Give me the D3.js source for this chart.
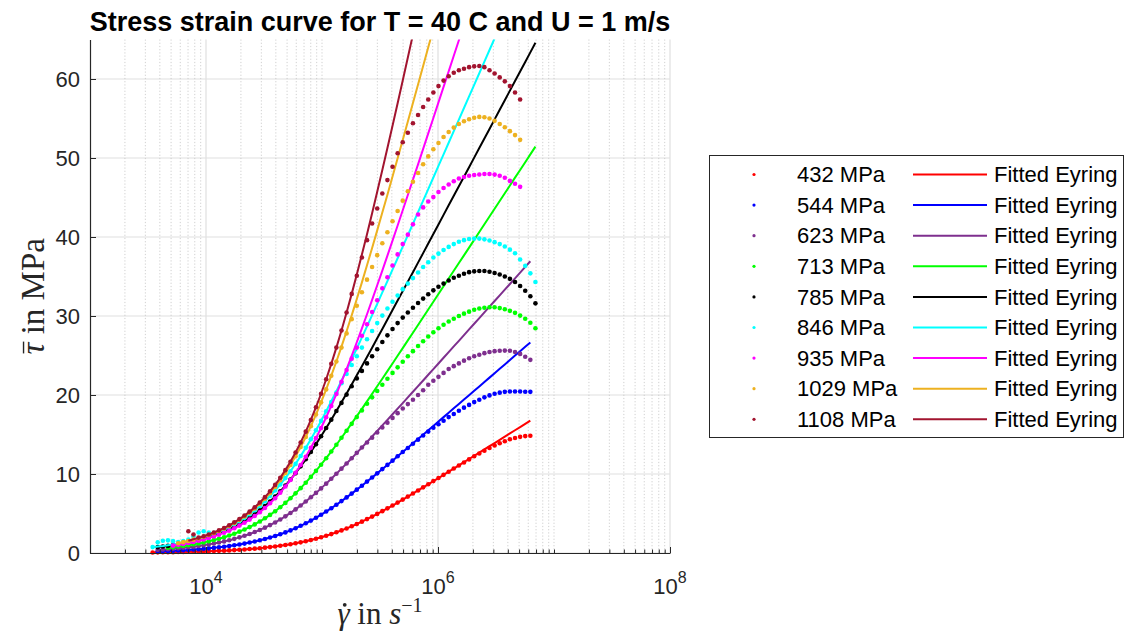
<!DOCTYPE html>
<html>
<head>
<meta charset="utf-8">
<script src="https://cdn.jsdelivr.net/npm/d3@7"></script>
<style>
  html, body { margin: 0; padding: 0; background: #ffffff; }
  svg { display: block; }
</style>
</head>
<body>
<svg id="chart" width="1125" height="641"></svg>
<script>
// ---- shear-rate sample grid (log10 of shear rate, 1/s) ----
const logShearRate = [
  3.540, 3.584, 3.628, 3.672, 3.716, 3.760, 3.804, 3.848, 3.892, 3.936,
  3.980, 4.024, 4.068, 4.112, 4.156, 4.200, 4.244, 4.288, 4.332, 4.376,
  4.420, 4.464, 4.508, 4.552, 4.596, 4.640, 4.684, 4.728, 4.772, 4.816,
  4.860, 4.904, 4.948, 4.992, 5.036, 5.080, 5.124, 5.168, 5.212, 5.256,
  5.300, 5.344, 5.388, 5.432, 5.476, 5.520, 5.564, 5.608, 5.652, 5.696,
  5.740, 5.784, 5.828, 5.872, 5.916, 5.960, 6.004, 6.048, 6.092, 6.136,
  6.180, 6.224, 6.268, 6.312, 6.356, 6.400, 6.444, 6.488, 6.532, 6.576,
  6.620, 6.664, 6.708, 6.752, 6.796, 6.840, 6.884
];

const pressures = ["432 MPa", "544 MPa", "623 MPa", "713 MPa", "785 MPa",
                   "846 MPa", "935 MPa", "1029 MPa", "1108 MPa"];
const colors = ["#ff0000", "#0000ff", "#7e2f8e", "#00ff00", "#000000",
                "#00ffff", "#ff00ff", "#edb120", "#a2142f"];

// first grid index of each measured series and of each fitted curve
const dotStart = [0, 1, 1, 3, 1, 0, 4, 5, 7];
const fitStart = [0, 1, 1, 3, 1, 0, 4, 5, 7];

// ---- measured mean shear stress (MPa) ----
const dots432 = [0.07,0.08,0.09,0.10,0.11,0.12,0.13,0.15,0.16,0.18,
  0.20,0.22,0.25,0.27,0.30,0.33,0.37,0.41,0.45,0.50,
  0.55,0.61,0.68,0.75,0.83,0.91,1.01,1.11,1.23,1.35,
  1.49,1.64,1.81,1.99,2.18,2.39,2.62,2.86,3.11,3.38,
  3.67,3.97,4.29,4.61,4.95,5.30,5.65,6.01,6.38,6.76,
  7.14,7.53,7.92,8.31,8.70,9.10,9.49,9.89,10.29,10.69,
  11.07,11.46,11.85,12.25,12.60,12.95,13.30,13.60,13.90,14.15,
  14.40,14.55,14.70,14.80,14.85];
const dots544 = [0.21,0.24,0.26,0.29,0.32,0.36,0.39,0.44,0.48,
  0.53,0.59,0.65,0.72,0.80,0.88,0.98,1.08,1.19,1.32,
  1.46,1.61,1.77,1.96,2.15,2.37,2.61,2.86,3.14,3.44,
  3.76,4.10,4.46,4.85,5.25,5.67,6.11,6.57,7.04,7.52,
  8.02,8.52,9.04,9.56,10.08,10.62,11.15,11.69,12.24,12.78,
  13.30,13.83,14.35,14.87,15.37,15.85,16.30,16.75,17.20,17.60,
  18.00,18.40,18.75,19.10,19.40,19.70,19.95,20.15,20.30,20.40,
  20.45,20.45,20.45,20.42,20.40];
const dots623 = [0.40,0.44,0.48,0.54,0.59,0.66,0.73,0.80,0.89,
  0.98,1.09,1.20,1.33,1.47,1.62,1.79,1.98,2.18,2.40,
  2.65,2.92,3.21,3.53,3.87,4.24,4.64,5.07,5.52,6.01,
  6.52,7.05,7.61,8.18,8.78,9.40,10.03,10.68,11.33,12.00,
  12.68,13.36,13.98,14.60,15.25,15.90,16.50,17.10,17.70,18.30,
  18.85,19.40,20.00,20.60,21.30,21.80,22.30,22.80,23.30,23.65,
  24.00,24.35,24.65,24.90,25.10,25.30,25.45,25.55,25.60,25.62,
  25.60,25.45,25.20,24.85,24.45];
const dots713 = [0.66,0.73,0.81,0.90,0.99,1.10,1.21,
  1.34,1.48,1.64,1.81,2.00,2.21,2.44,2.70,2.98,3.28,
  3.62,3.99,4.39,4.82,5.29,5.80,6.34,6.93,7.55,8.21,
  8.90,9.63,10.39,11.18,12.00,12.84,13.70,14.59,15.48,16.35,
  17.20,18.05,18.90,19.70,20.50,21.30,22.05,22.80,23.50,24.20,
  24.90,25.55,26.20,26.80,27.40,27.95,28.45,28.90,29.30,29.65,
  30.00,30.30,30.55,30.80,30.95,31.05,31.10,31.10,31.00,30.85,
  30.65,30.40,30.05,29.65,29.15,28.45];
const dots785 = [0.74,0.82,0.90,1.00,1.10,1.22,1.35,1.49,1.65,
  1.83,2.02,2.23,2.47,2.73,3.01,3.32,3.67,4.05,4.46,
  4.91,5.40,5.94,6.52,7.14,7.81,8.53,9.30,10.11,10.97,
  11.86,12.80,13.78,14.78,15.82,16.88,17.97,19.00,20.05,21.10,
  22.10,23.05,24.00,24.90,25.80,26.70,27.55,28.35,29.10,29.80,
  30.45,31.05,31.65,32.20,32.75,33.25,33.70,34.10,34.50,34.85,
  35.10,35.35,35.55,35.65,35.70,35.70,35.60,35.45,35.25,35.00,
  34.70,34.30,33.80,33.20,32.50,31.60];
const dots846 = [0.75,1.35,1.55,1.60,1.50,1.40,1.50,1.70,2.10,2.60,
  2.75,2.60,2.55,2.75,3.00,3.31,3.65,4.03,4.45,4.91,
  5.41,5.96,6.56,7.21,7.91,8.67,9.48,10.35,11.28,12.27,
  13.31,14.40,15.53,16.72,17.94,19.10,20.30,21.50,22.65,23.80,
  24.90,26.00,27.05,28.10,29.10,30.05,30.95,31.80,32.60,33.40,
  34.10,34.80,35.50,36.20,36.80,37.40,37.90,38.35,38.75,39.10,
  39.40,39.60,39.75,39.80,39.80,39.70,39.55,39.35,39.10,38.80,
  38.40,37.95,37.15,36.35,35.40,34.30];
const dots935 = [0.93,1.03,1.14,1.26,1.40,1.55,
  1.71,1.89,2.10,2.32,2.56,2.83,3.13,3.47,3.83,4.23,
  4.68,5.16,5.70,6.29,6.93,7.64,8.41,9.24,10.15,11.13,
  12.19,13.33,14.54,15.83,17.19,18.62,20.12,21.68,23.15,24.60,
  26.00,27.50,28.95,30.50,32.00,33.50,34.90,36.40,37.80,39.10,
  40.30,41.60,42.85,43.75,44.50,45.05,45.70,46.20,46.65,47.05,
  47.40,47.60,47.75,47.85,47.92,47.98,47.98,47.90,47.75,47.50,
  47.10,46.75,46.35];
const dots1029 = [1.24,1.38,1.52,1.69,1.87,
  2.06,2.28,2.52,2.79,3.09,3.42,3.78,4.18,4.62,5.10,
  5.64,6.22,6.87,7.58,8.36,9.20,10.13,11.14,12.24,13.42,
  14.69,16.06,17.52,19.07,20.71,22.44,24.24,26.00,27.80,29.60,
  31.30,33.00,34.60,36.20,37.70,39.20,40.60,42.00,43.30,44.60,
  45.80,47.00,48.10,49.20,50.20,51.10,51.90,52.65,53.30,53.85,
  54.30,54.65,54.90,55.10,55.20,55.15,55.00,54.70,54.30,53.90,
  53.40,52.90,52.30];
const dots1108 = [2.75,2.35,1.95,
  2.12,2.34,2.59,2.87,3.17,3.51,3.88,4.29,4.74,5.24,
  5.79,6.40,7.07,7.81,8.62,9.51,10.49,11.56,12.72,13.99,
  15.36,16.84,18.45,20.16,21.99,23.94,26.00,28.17,30.44,32.80,
  35.10,37.40,39.60,41.70,43.60,45.50,47.20,48.90,50.60,52.00,
  53.20,54.40,55.45,56.45,57.40,58.30,59.10,59.80,60.35,60.80,
  61.10,61.30,61.50,61.60,61.65,61.50,61.10,60.70,60.20,59.70,
  59.10,58.30,57.40];

// ---- fitted Eyring curves (MPa) ----
const fit432 = [0.07,0.08,0.09,0.10,0.11,0.12,0.13,0.15,0.16,0.18,
  0.20,0.22,0.25,0.27,0.30,0.33,0.37,0.41,0.45,0.50,
  0.55,0.61,0.68,0.75,0.83,0.91,1.01,1.11,1.23,1.35,
  1.49,1.64,1.81,1.99,2.18,2.39,2.62,2.86,3.11,3.38,
  3.67,3.97,4.29,4.61,4.95,5.30,5.65,6.01,6.38,6.76,
  7.14,7.53,7.92,8.31,8.70,9.10,9.49,9.89,10.29,10.69,
  11.10,11.50,11.90,12.30,12.71,13.11,13.52,13.92,14.33,14.73,
  15.13,15.54,15.94,16.35,16.75];
const fit544 = [0.21,0.24,0.26,0.29,0.32,0.36,0.39,0.44,0.48,
  0.53,0.59,0.65,0.72,0.80,0.88,0.98,1.08,1.19,1.32,
  1.46,1.61,1.77,1.96,2.15,2.37,2.61,2.86,3.14,3.44,
  3.76,4.10,4.46,4.85,5.25,5.67,6.11,6.57,7.04,7.52,
  8.02,8.52,9.04,9.56,10.08,10.62,11.15,11.69,12.24,12.78,
  13.33,13.88,14.43,14.98,15.53,16.09,16.64,17.20,17.75,18.31,
  18.86,19.42,19.98,20.53,21.09,21.64,22.20,22.76,23.32,23.87,
  24.43,24.99,25.54,26.10,26.66];
const fit623 = [0.40,0.44,0.48,0.54,0.59,0.66,0.73,0.80,0.89,
  0.98,1.09,1.20,1.33,1.47,1.62,1.79,1.98,2.18,2.40,
  2.65,2.92,3.21,3.53,3.87,4.24,4.64,5.07,5.52,6.01,
  6.52,7.05,7.61,8.18,8.78,9.40,10.03,10.68,11.33,12.00,
  12.68,13.36,14.05,14.74,15.44,16.15,16.85,17.56,18.27,18.98,
  19.70,20.41,21.12,21.84,22.56,23.27,23.99,24.71,25.43,26.15,
  26.86,27.58,28.30,29.02,29.74,30.46,31.18,31.90,32.62,33.33,
  34.05,34.77,35.49,36.21,36.93];
const fit713 = [0.66,0.73,0.81,0.90,0.99,1.10,1.21,
  1.34,1.48,1.64,1.81,2.00,2.21,2.44,2.70,2.98,3.28,
  3.62,3.99,4.39,4.82,5.29,5.80,6.34,6.93,7.55,8.21,
  8.90,9.63,10.39,11.18,12.00,12.84,13.70,14.59,15.48,16.40,
  17.32,18.25,19.20,20.14,21.10,22.06,23.02,23.99,24.96,25.93,
  26.91,27.88,28.86,29.84,30.82,31.80,32.78,33.76,34.74,35.72,
  36.70,37.68,38.66,39.64,40.63,41.61,42.59,43.58,44.56,45.54,
  46.52,47.51,48.49,49.47,50.46,51.44];
const fit785 = [0.74,0.82,0.90,1.00,1.10,1.22,1.35,1.49,1.65,
  1.83,2.02,2.23,2.47,2.73,3.01,3.32,3.67,4.05,4.46,
  4.91,5.40,5.94,6.52,7.14,7.81,8.53,9.30,10.11,10.97,
  11.86,12.80,13.78,14.78,15.82,16.88,17.97,19.07,20.20,21.34,
  22.49,23.65,24.82,25.99,27.18,28.36,29.56,30.75,31.95,33.15,
  34.35,35.55,36.76,37.96,39.17,40.38,41.59,42.80,44.01,45.21,
  46.42,47.63,48.84,50.05,51.26,52.47,53.68,54.89,56.10,57.32,
  58.53,59.74,60.95,62.16,63.37,64.58];
const fit846 = [0.73,0.81,0.89,0.99,1.09,1.21,1.34,1.48,1.64,1.81,
  2.00,2.22,2.45,2.71,2.99,3.31,3.65,4.03,4.45,4.91,
  5.41,5.96,6.56,7.21,7.91,8.67,9.48,10.35,11.28,12.27,
  13.31,14.40,15.53,16.72,17.94,19.20,20.49,21.80,23.14,24.51,
  25.89,27.29,28.69,30.11,31.54,32.98,34.42,35.86,37.31,38.77,
  40.22,41.68,43.14,44.60,46.07,47.53,49.00,50.46,51.93,53.40,
  54.86,56.33,57.79,59.26,60.73,62.20,63.67,65.14];
const fit935 = [0.93,1.03,1.14,1.26,1.40,1.55,
  1.71,1.89,2.10,2.32,2.56,2.83,3.13,3.47,3.83,4.23,
  4.68,5.16,5.70,6.29,6.93,7.64,8.41,9.24,10.15,11.13,
  12.19,13.33,14.54,15.83,17.19,18.62,20.12,21.68,23.29,24.96,
  26.68,28.43,30.22,32.04,33.89,35.75,37.64,39.54,41.46,43.38,
  45.31,47.26,49.20,51.16,53.11,55.07,57.04,59.00,60.96,62.94,
  64.91,66.88];
const fit1029 = [1.24,1.38,1.52,1.69,1.87,
  2.06,2.28,2.52,2.79,3.09,3.42,3.78,4.18,4.62,5.10,
  5.64,6.22,6.87,7.58,8.36,9.20,10.13,11.14,12.24,13.42,
  14.69,16.06,17.52,19.07,20.71,22.44,24.24,26.12,28.07,30.08,
  32.15,34.26,36.42,38.61,40.84,43.09,45.36,47.65,49.96,52.28,
  54.61,56.95,59.30,61.65,64.01,66.37];
const fit1108 = [1.56,1.73,1.91,
  2.12,2.34,2.59,2.87,3.17,3.51,3.88,4.29,4.74,5.24,
  5.79,6.40,7.07,7.81,8.62,9.51,10.49,11.56,12.72,13.99,
  15.36,16.84,18.45,20.16,21.99,23.94,26.00,28.17,30.44,32.80,
  35.24,37.77,40.36,43.01,45.72,48.47,51.26,54.09,56.94,59.82,
  62.71,65.63];

const measured = [dots432, dots544, dots623, dots713, dots785, dots846, dots935, dots1029, dots1108];
const fitted   = [fit432, fit544, fit623, fit713, fit785, fit846, fit935, fit1029, fit1108];

const yTicks = [0, 10, 20, 30, 40, 50, 60];
const xMajorExponents = [4, 6, 8];

// ---- layout ----
const svg = d3.select("#chart");
const W = 1125, H = 641;
const plot = { left: 90, right: 670, top: 39.5, bottom: 553 };
const AXIS = "#262626";
const SANS = "'Liberation Sans', Arial, Helvetica, sans-serif";
const SERIF = "'Liberation Serif', 'Times New Roman', serif";

svg.append("rect").attr("width", W).attr("height", H).attr("fill", "#ffffff");

const x = d3.scaleLog().domain([1e3, 1e8]).range([plot.left, plot.right]);
const y = d3.scaleLinear().domain([0, 65]).range([plot.bottom, plot.top]);

// minor positions on the log axis: 2..9 x 10^k, plus the unlabeled decades
const minorX = [];
for (let k = 3; k <= 7; k++) {
  for (let m = 1; m <= 9; m++) {
    const v = m * Math.pow(10, k);
    if (m === 1 && (k === 3 || xMajorExponents.includes(k))) continue;
    minorX.push(v);
  }
}
const majorX = xMajorExponents.map(e => Math.pow(10, e));

// ---- grid ----
const grid = svg.append("g");
grid.selectAll(".gy").data(yTicks).join("line")
  .attr("x1", plot.left).attr("x2", plot.right)
  .attr("y1", d => y(d)).attr("y2", d => y(d))
  .attr("stroke", "#dfdfdf").attr("stroke-width", 1.2);
grid.selectAll(".gxm").data(minorX).join("line")
  .attr("x1", d => x(d)).attr("x2", d => x(d))
  .attr("y1", plot.top).attr("y2", plot.bottom)
  .attr("stroke", "#c4c4c4").attr("stroke-width", 0.8)
  .attr("stroke-dasharray", "1.2,2");
grid.selectAll(".gxM").data(majorX).join("line")
  .attr("x1", d => x(d)).attr("x2", d => x(d))
  .attr("y1", plot.top).attr("y2", plot.bottom)
  .attr("stroke", "#dfdfdf").attr("stroke-width", 1.2);

// ---- data ----
svg.append("clipPath").attr("id", "plotClip")
  .append("rect").attr("x", plot.left).attr("y", plot.top)
  .attr("width", plot.right - plot.left).attr("height", plot.bottom - plot.top + 6);

const dataLayer = svg.append("g").attr("clip-path", "url(#plotClip)");
const line = d3.line().x(d => x(d.rate)).y(d => y(d.tau));

measured.forEach((vals, s) => {
  const pts = vals.map((v, k) => ({ rate: Math.pow(10, logShearRate[dotStart[s] + k]), tau: v }));
  dataLayer.append("g").selectAll("circle").data(pts).join("circle")
    .attr("cx", d => x(d.rate)).attr("cy", d => y(d.tau))
    .attr("r", 2.3).attr("fill", colors[s]);
  const fpts = fitted[s].map((v, k) => ({ rate: Math.pow(10, logShearRate[fitStart[s] + k]), tau: v }));
  dataLayer.append("path").datum(fpts)
    .attr("d", line).attr("fill", "none")
    .attr("stroke", colors[s]).attr("stroke-width", 2);
});

// ---- axes ----
const yAxis = d3.axisLeft(y).tickValues(yTicks).tickSize(-6).tickSizeOuter(0).tickPadding(10);
const gy = svg.append("g").attr("transform", `translate(${plot.left},0)`).call(yAxis);
gy.select(".domain").attr("stroke", AXIS).attr("stroke-width", 1.2);
gy.selectAll(".tick line").attr("stroke", AXIS);
gy.selectAll(".tick text").attr("fill", AXIS).attr("font-family", SANS).attr("font-size", 22);

const xMinorAxis = d3.axisBottom(x).tickValues(minorX).tickSize(-3.5).tickSizeOuter(0).tickFormat("");
const gxm = svg.append("g").attr("transform", `translate(0,${plot.bottom})`).call(xMinorAxis);
gxm.select(".domain").remove();
gxm.selectAll(".tick line").attr("stroke", AXIS);

const xAxis = d3.axisBottom(x).tickValues(majorX).tickSize(-6).tickSizeOuter(0).tickFormat("");
const gx = svg.append("g").attr("transform", `translate(0,${plot.bottom})`).call(xAxis);
gx.select(".domain").attr("stroke", AXIS).attr("stroke-width", 1.2);
gx.selectAll(".tick line").attr("stroke", AXIS);

const xLabels = svg.append("g").selectAll("text").data(xMajorExponents).join("text")
  .attr("x", e => x(Math.pow(10, e))).attr("y", 594)
  .attr("text-anchor", "middle").attr("fill", AXIS)
  .attr("font-family", SANS).attr("font-size", 22);
xLabels.append("tspan").text("10");
xLabels.append("tspan").attr("dy", -11).attr("font-size", 16).text(e => e);

// ---- titles ----
svg.append("text").attr("x", (plot.left + plot.right) / 2).attr("y", 31)
  .attr("text-anchor", "middle").attr("font-family", SANS)
  .attr("font-weight", "bold").attr("font-size", 27).attr("fill", "#000")
  .text("Stress strain curve for T = 40 C and U = 1 m/s");

// x label: gamma-dot in s^-1 (the dot accent is drawn above the glyph)
const xlFs = 31;
const xlG = svg.append("g");
const xl = xlG.append("text").attr("x", (plot.left + plot.right) / 2).attr("y", 624)
  .attr("text-anchor", "middle").attr("font-family", SERIF)
  .attr("font-size", xlFs).attr("fill", AXIS);
xl.append("tspan").attr("font-style", "italic").text("\u03b3");
xl.append("tspan").text(" in ");
xl.append("tspan").attr("font-style", "italic").text("s");
xl.append("tspan").attr("dy", -12).attr("font-size", 20).text("\u22121");
{
  const e = xl.node().getExtentOfChar(0);
  xlG.append("circle").attr("cx", e.x + e.width * 0.6).attr("cy", 624 - xlFs * 0.62)
    .attr("r", 1.9).attr("fill", AXIS);
}

// y label: tau-bar in MPa (the bar accent is drawn above the glyph)
const ylFs = 33;
const ylG = svg.append("g").attr("transform", `translate(44,${(plot.top + plot.bottom) / 2}) rotate(-90)`);
const yl = ylG.append("text").attr("x", 0).attr("y", 0)
  .attr("text-anchor", "middle").attr("font-family", SERIF)
  .attr("font-size", ylFs).attr("fill", AXIS);
yl.append("tspan").attr("font-style", "italic").text("\u03c4");
yl.append("tspan").text(" in MPa");
{
  const e = yl.node().getExtentOfChar(0);
  ylG.append("line").attr("x1", e.x + 1).attr("x2", e.x + e.width + 1)
    .attr("y1", -ylFs * 0.62).attr("y2", -ylFs * 0.62)
    .attr("stroke", AXIS).attr("stroke-width", 1.4);
}

// ---- legend ----
const legend = svg.append("g");
legend.append("rect").attr("x", 709.5).attr("y", 155.5).attr("width", 414).attr("height", 282)
  .attr("fill", "#ffffff").attr("stroke", AXIS).attr("stroke-width", 1);
const rows = legend.selectAll(".row").data(pressures).join("g")
  .attr("transform", (d, i) => `translate(0,${174.5 + i * 30.6})`);
rows.append("circle").attr("cx", 754).attr("cy", 0).attr("r", 1.6).attr("fill", (d, i) => colors[i]);
rows.append("text").attr("x", 797).attr("y", 0).attr("dy", "0.35em")
  .attr("font-family", SANS).attr("font-size", 22).attr("fill", "#000").text(d => d);
rows.append("line").attr("x1", 913).attr("x2", 987).attr("y1", 0).attr("y2", 0)
  .attr("stroke", (d, i) => colors[i]).attr("stroke-width", 2);
rows.append("text").attr("x", 994).attr("y", 0).attr("dy", "0.35em")
  .attr("font-family", SANS).attr("font-size", 22).attr("fill", "#000").text("Fitted Eyring");
</script>
</body>
</html>
